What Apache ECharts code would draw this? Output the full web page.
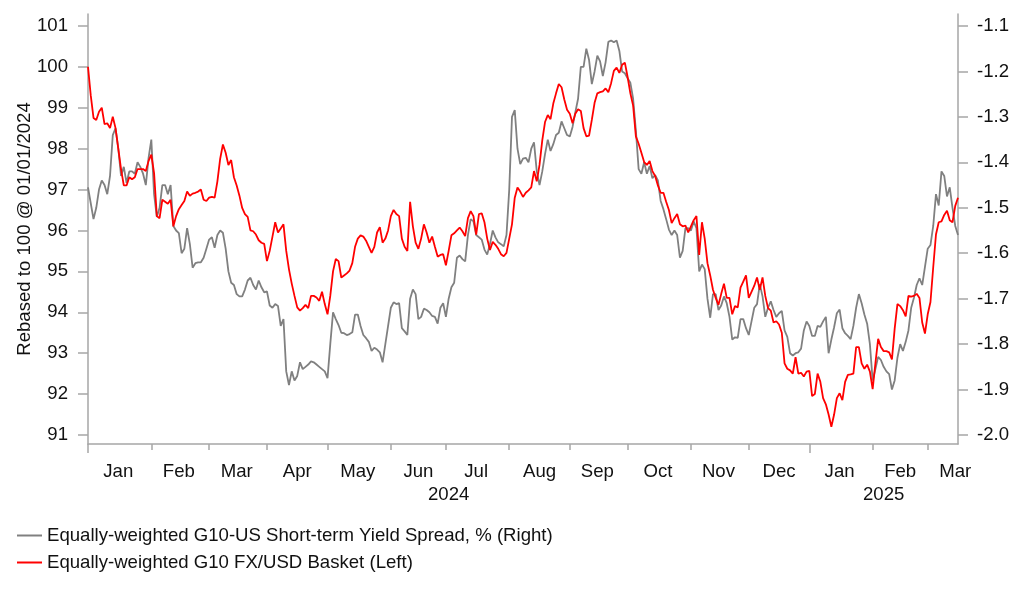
<!DOCTYPE html>
<html>
<head>
<meta charset="utf-8">
<script src="https://cdn.jsdelivr.net/npm/echarts@6/dist/echarts.min.js"></script>
<style>html,body{margin:0;padding:0;background:#fff}#c{width:1022px;height:597px}</style>
</head>
<body>
<div id="c"></div>
<script>
// ---- data ----
const startYear = 2024;
const pointCount = 317; // business days 2024-01-01 .. 2025-03-18
const monthNames = ['Jan','Feb','Mar','Apr','May','Jun','Jul','Aug','Sep','Oct','Nov','Dec'];
const leftTicks = [91, 92, 93, 94, 95, 96, 97, 98, 99, 100, 101];
const rightTicks = [-2.0, -1.9, -1.8, -1.7, -1.6, -1.5, -1.4, -1.3, -1.2, -1.1];
const spreadName = 'Equally-weighted G10-US Short-term Yield Spread, % (Right)';
const basketName = 'Equally-weighted G10 FX/USD Basket (Left)';

const fxBasket = [
100.0, 99.3, 98.75, 98.7, 98.9, 99.0, 98.6, 98.62, 98.5, 98.78,
98.5, 98.0, 97.5, 97.1, 97.1, 97.3, 97.25, 97.3, 97.5, 97.5,
97.5, 97.45, 97.7, 97.85, 97.4, 96.35, 96.3, 96.75, 96.7, 96.65,
96.75, 96.1, 96.35, 96.52, 96.62, 96.72, 96.95, 96.85, 96.9, 96.92,
96.95, 97.0, 96.75, 96.72, 96.8, 96.82, 96.8, 97.2, 97.75, 98.1,
97.9, 97.6, 97.72, 97.3, 97.1, 96.85, 96.55, 96.4, 96.33, 96.0,
95.98, 95.9, 95.76, 95.7, 95.67, 95.25, 95.5, 95.85, 96.2, 95.95,
96.05, 96.15, 95.5, 95.05, 94.7, 94.4, 94.12, 94.04, 94.1, 94.18,
94.1, 94.4, 94.4, 94.36, 94.28, 94.5, 94.2, 93.95, 94.4, 95.0,
95.3, 95.25, 94.85, 94.9, 94.95, 95.02, 95.2, 95.6, 95.8, 95.88,
95.85, 95.75, 95.6, 95.45, 95.6, 95.95, 96.08, 95.7, 95.8, 96.0,
96.35, 96.5, 96.4, 96.35, 95.8, 95.6, 95.5, 96.7, 96.1, 95.7,
95.55, 95.8, 96.15, 95.95, 95.7, 95.85, 95.6, 95.36, 95.4, 95.42,
95.15, 95.5, 95.88, 95.93, 96.0, 96.07, 95.98, 95.86, 96.3, 96.47,
96.35, 95.9, 96.4, 96.42, 96.2, 95.8, 95.52, 95.72, 95.65, 95.55,
95.42, 95.37, 95.45, 95.8, 96.15, 96.8, 97.05, 96.95, 96.82, 96.92,
96.98, 97.05, 97.45, 97.2, 97.6, 98.2, 98.65, 98.82, 98.72, 99.1,
99.35, 99.58, 99.5, 99.2, 98.95, 98.85, 98.62, 98.85, 98.96, 98.92,
98.5, 98.3, 98.32, 98.7, 99.12, 99.35, 99.38, 99.4, 99.47, 99.38,
99.6, 99.9, 99.98, 99.85, 100.05, 100.1, 99.75, 99.35, 99.05, 98.3,
98.12, 97.9, 97.67, 97.6, 97.7, 97.45, 97.33, 97.1, 96.92, 96.92,
96.7, 96.5, 96.18, 96.3, 96.4, 96.15, 96.1, 96.12, 95.95, 96.1,
96.25, 96.35, 95.4, 96.2, 95.8, 95.2, 94.9, 94.55, 94.35, 94.18,
94.45, 94.7, 94.35, 94.35, 93.95, 94.15, 94.12, 94.6, 94.75, 94.9,
94.35, 94.5, 94.65, 94.85, 94.55, 94.85, 94.4, 94.1, 94.04, 93.75,
93.78, 93.7, 93.5, 92.75, 92.62, 92.58, 92.5, 92.9, 92.5, 92.52,
92.43, 92.55, 92.57, 91.95, 92.0, 92.5, 92.3, 91.9, 91.75, 91.5,
91.2, 91.5, 91.9, 92.02, 91.85, 92.3, 92.47, 92.48, 92.5, 93.15,
93.15, 92.75, 92.62, 92.72, 92.55, 92.12, 92.75, 93.35, 93.15, 93.05,
93.05, 93.02, 92.85, 93.6, 94.2, 94.15, 94.05, 93.9, 94.4, 94.38,
94.4, 94.45, 94.35, 93.75, 93.48, 93.95, 94.25, 95.1, 95.9, 96.2,
96.22, 96.38, 96.48, 96.25, 96.2, 96.6, 96.8
];

const yieldSpread = [
-1.455, -1.49, -1.525, -1.5, -1.46, -1.44, -1.45, -1.47, -1.43, -1.34,
-1.325, -1.37, -1.43, -1.41, -1.445, -1.42, -1.42, -1.425, -1.40, -1.41,
-1.425, -1.45, -1.39, -1.35, -1.47, -1.52, -1.50, -1.45, -1.45, -1.47,
-1.45, -1.54, -1.55, -1.556, -1.6, -1.59, -1.545, -1.58, -1.632, -1.622,
-1.62, -1.62, -1.61, -1.59, -1.57, -1.565, -1.588, -1.56, -1.55, -1.555,
-1.59, -1.64, -1.665, -1.67, -1.69, -1.695, -1.695, -1.68, -1.66, -1.654,
-1.67, -1.68, -1.66, -1.675, -1.686, -1.684, -1.715, -1.72, -1.712, -1.716,
-1.76, -1.745, -1.86, -1.89, -1.86, -1.88, -1.87, -1.84, -1.855, -1.85,
-1.845, -1.838, -1.84, -1.845, -1.85, -1.855, -1.86, -1.875, -1.80, -1.73,
-1.745, -1.758, -1.775, -1.776, -1.78, -1.778, -1.774, -1.735, -1.735, -1.76,
-1.78, -1.787, -1.795, -1.815, -1.808, -1.812, -1.818, -1.84, -1.80, -1.76,
-1.72, -1.708, -1.712, -1.71, -1.765, -1.772, -1.78, -1.70, -1.68, -1.69,
-1.745, -1.74, -1.722, -1.725, -1.73, -1.738, -1.74, -1.755, -1.72, -1.71,
-1.74, -1.70, -1.675, -1.665, -1.61, -1.605, -1.613, -1.618, -1.56, -1.525,
-1.53, -1.56, -1.565, -1.57, -1.592, -1.603, -1.58, -1.55, -1.565, -1.576,
-1.58, -1.585, -1.56, -1.46, -1.30, -1.285, -1.37, -1.404, -1.392, -1.39,
-1.40, -1.37, -1.356, -1.42, -1.45, -1.42, -1.382, -1.35, -1.375, -1.36,
-1.34, -1.335, -1.31, -1.325, -1.34, -1.343, -1.322, -1.29, -1.26, -1.19,
-1.19, -1.15, -1.175, -1.228, -1.20, -1.165, -1.178, -1.21, -1.18, -1.135,
-1.132, -1.136, -1.132, -1.155, -1.20, -1.204, -1.215, -1.225, -1.26, -1.33,
-1.415, -1.425, -1.40, -1.425, -1.408, -1.435, -1.428, -1.44, -1.485, -1.503,
-1.525, -1.548, -1.56, -1.55, -1.56, -1.61, -1.595, -1.545, -1.545, -1.55,
-1.53, -1.545, -1.64, -1.625, -1.635, -1.70, -1.742, -1.69, -1.69, -1.725,
-1.715, -1.695, -1.71, -1.74, -1.79, -1.785, -1.786, -1.745, -1.745, -1.765,
-1.78, -1.75, -1.72, -1.712, -1.668, -1.695, -1.74, -1.72, -1.706, -1.725,
-1.74, -1.732, -1.727, -1.77, -1.784, -1.82, -1.825, -1.82, -1.818, -1.81,
-1.77, -1.75, -1.76, -1.782, -1.782, -1.76, -1.762, -1.75, -1.74, -1.82,
-1.79, -1.763, -1.732, -1.724, -1.765, -1.776, -1.782, -1.789, -1.76, -1.72,
-1.69, -1.71, -1.735, -1.755, -1.80, -1.88, -1.855, -1.828, -1.835, -1.85,
-1.86, -1.866, -1.90, -1.88, -1.83, -1.80, -1.815, -1.795, -1.77, -1.72,
-1.698, -1.67, -1.655, -1.67, -1.63, -1.59, -1.582, -1.54, -1.47, -1.495,
-1.42, -1.43, -1.475, -1.455, -1.50, -1.54, -1.56
];

// ---- business-day categories ----
const dates = [];
{
  const d = new Date(Date.UTC(startYear, 0, 1));
  while (dates.length < pointCount) {
    const wd = d.getUTCDay();
    if (wd !== 0 && wd !== 6) dates.push(d.toISOString().slice(0, 10));
    d.setUTCDate(d.getUTCDate() + 1);
  }
}
function businessDaysInMonth(y, m) {
  let n = 0;
  const d = new Date(Date.UTC(y, m, 1));
  while (d.getUTCMonth() === m) {
    const wd = d.getUTCDay();
    if (wd !== 0 && wd !== 6) n++;
    d.setUTCDate(d.getUTCDate() + 1);
  }
  return n;
}
const monthStart = new Set(), monthLabel = new Set(), yearStart = new Set(), yearLabel = new Set();
const yearFirst = {}, yearLast = {};
dates.forEach((s, i) => {
  const y = +s.slice(0, 4), m = +s.slice(5, 7) - 1;
  if (i === 0 || s.slice(0, 7) !== dates[i - 1].slice(0, 7)) {
    monthStart.add(i);
    const mid = i + Math.floor(businessDaysInMonth(y, m) / 2);
    if (mid < pointCount) monthLabel.add(mid);
  }
  if (yearFirst[y] === undefined) { yearFirst[y] = i; yearStart.add(i); }
  yearLast[y] = i;
});
Object.keys(yearFirst).forEach(y => yearLabel.add(Math.round((yearFirst[y] + yearLast[y]) / 2)));

const FONT = "'Liberation Sans', Arial, sans-serif";
const TXT = '#111111';
const AX = '#a6a6a6';
const FS = 18.6;

const chart = echarts.init(document.getElementById('c'), null, { renderer: 'canvas' });
chart.setOption({
  animation: false,
  backgroundColor: '#fff',
  textStyle: { fontFamily: FONT },
  grid: { left: 88, right: 64, top: 14, bottom: 153, containLabel: false },
  legend: {
    orient: 'vertical', left: 12, top: 521,
    itemWidth: 25, itemHeight: 2, itemGap: 8, icon: 'rect',
    textStyle: { fontSize: FS, color: TXT, fontFamily: FONT },
    data: [spreadName, basketName]
  },
  xAxis: [
    {
      type: 'category', data: dates, boundaryGap: false, position: 'bottom',
      axisLine: { show: true, lineStyle: { color: AX, width: 1.5 } },
      axisTick: { show: true, length: 6, interval: i => monthStart.has(i), lineStyle: { color: AX, width: 1.5 } },
      axisLabel: { interval: i => monthLabel.has(i), formatter: v => monthNames[+v.slice(5, 7) - 1],
        margin: 18, fontSize: FS, color: TXT, fontFamily: FONT },
      splitLine: { show: false }
    },
    {
      type: 'category', data: dates, boundaryGap: false, position: 'bottom',
      axisLine: { show: false },
      axisTick: { show: true, length: 9, interval: i => yearStart.has(i), lineStyle: { color: AX, width: 1.5 } },
      axisLabel: { interval: i => yearLabel.has(i), formatter: v => v.slice(0, 4),
        margin: 41, fontSize: FS, color: TXT, fontFamily: FONT },
      splitLine: { show: false }
    }
  ],
  yAxis: [
    {
      type: 'value', position: 'left', min: 90.78, max: 101.29,
      name: 'Rebased to 100 @ 01/01/2024', nameLocation: 'middle', nameRotate: 90, nameGap: 54,
      nameMoveOverlap: false,
      nameTextStyle: { fontSize: FS, color: TXT, fontFamily: FONT },
      axisLine: { show: true, lineStyle: { color: AX, width: 1.5 } },
      axisTick: { show: true, length: 10, customValues: leftTicks, lineStyle: { color: AX, width: 1.5 } },
      axisLabel: { customValues: leftTicks, margin: 20, fontSize: FS, color: TXT, fontFamily: FONT },
      splitLine: { show: false }
    },
    {
      type: 'value', position: 'right', min: -2.0198, max: -1.0736,
      axisLine: { show: true, lineStyle: { color: AX, width: 1.5 } },
      axisTick: { show: true, length: 10, customValues: rightTicks, lineStyle: { color: AX, width: 1.5 } },
      axisLabel: { customValues: rightTicks, formatter: v => v.toFixed(1), margin: 19, fontSize: FS, color: TXT, fontFamily: FONT },
      splitLine: { show: false }
    }
  ],
  series: [
    {
      name: spreadName, type: 'line', xAxisIndex: 0, yAxisIndex: 1, data: yieldSpread,
      symbol: 'none', color: '#808080', lineStyle: { color: '#808080', width: 1.8 }, z: 2
    },
    {
      name: basketName, type: 'line', xAxisIndex: 0, yAxisIndex: 0, data: fxBasket,
      symbol: 'none', color: '#ff0000', lineStyle: { color: '#ff0000', width: 1.8 }, z: 3
    }
  ]
});
</script>
</body>
</html>
